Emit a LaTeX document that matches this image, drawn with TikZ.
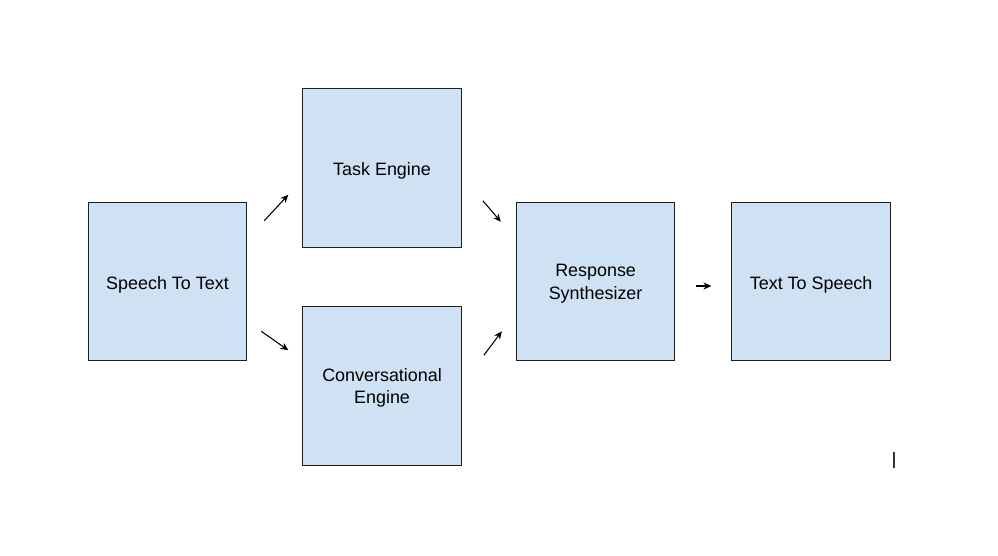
\documentclass[tikz,border=0pt]{standalone}
\usepackage{fontspec}
\setmainfont{Liberation Sans}
\usetikzlibrary{arrows.meta,positioning}
\definecolor{boxblue}{RGB}{207,226,243}
\definecolor{boxline}{RGB}{30,30,30}
\definecolor{cursorgray}{RGB}{50,50,50}

\begin{document}
\begin{tikzpicture}[>=Stealth,
  sbox/.style={draw=boxline,fill=boxblue,line width=0.6pt,minimum width=3.17cm,
               minimum height=3.17cm,inner sep=2pt,align=center,
               font=\fontsize{10.2}{13}\selectfont},
  oneline/.style={text height=10.8pt},
  twoline/.style={text depth=-1.4pt},
  arr/.style={->,line width=0.6pt,black,>={Stealth[length=4.5pt,width=4pt]}}]
  \useasboundingbox (-3.35,5.63) rectangle (16.61,-5.47);
  \node[sbox,oneline] (stt) at (0,0) {Speech To Text};
  \node[sbox,oneline,above right=-0.92cm and 1.1cm of stt]  (task) {Task Engine};
  \node[sbox,twoline,below right=-1.1cm and 1.1cm of stt]   (conv) {Conversational\\Engine};
  \node[sbox,twoline,below right=-0.92cm and 1.08cm of task] (resp) {Response\\Synthesizer};
  \node[sbox,oneline,right=1.12cm of resp]                  (tts)  {Text To Speech};
  \draw[arr] ([shift={(0.34,-0.38)}]stt.north east) -- ([shift={(-0.28,1.06)}]task.south west);
  \draw[arr] ([shift={(0.28,0.6)}]stt.south east)   -- ([shift={(-0.28,-0.88)}]conv.north west);
  \draw[arr] ([shift={(0.42,0.94)}]task.south east) -- ([shift={(-0.3,-0.4)}]resp.north west);
  \draw[arr] ([shift={(0.44,-0.98)}]conv.north east) -- ([shift={(-0.28,0.6)}]resp.south west);
  \draw[arr] ([shift={(0.42,-0.09)}]resp.east)      -- ([shift={(-0.4,-0.09)}]tts.west);
  % cursor mark
  \draw[cursorgray,line width=1.2pt] ([shift={(0.06,-1.82)}]tts.south east) -- ([shift={(0.06,-2.14)}]tts.south east);
\end{tikzpicture}
\end{document}
